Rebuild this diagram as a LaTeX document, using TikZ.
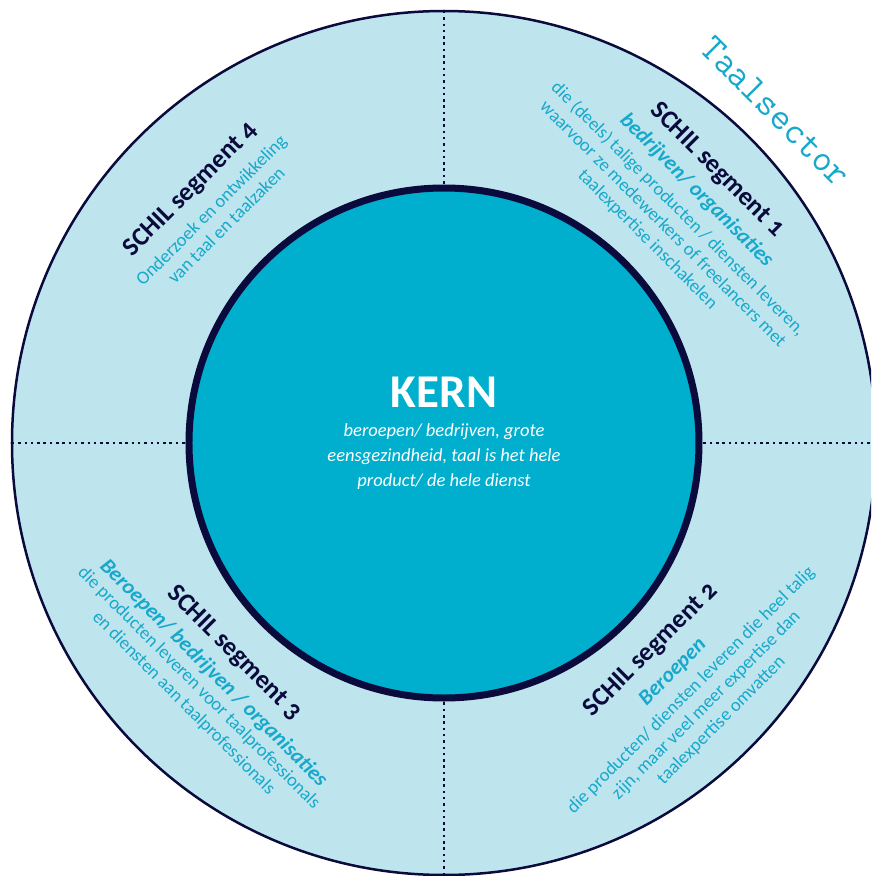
\documentclass[tikz,border=0pt]{standalone}
\usepackage{fontspec}
\setmainfont{Carlito}[Numbers=OldStyle]
\definecolor{navy}{HTML}{0A0A3C}
\definecolor{shellblue}{HTML}{BEE4EE}
\definecolor{kernblue}{HTML}{00AECD}
\definecolor{cyantext}{HTML}{16A9CC}
\begin{document}
\begin{tikzpicture}[x=1pt, y=1pt,
  ttl/.style={text=navy, font=\fontsize{26}{26}\selectfont\bfseries},
  sub/.style={text=cyantext, font=\fontsize{21.5}{22}\selectfont\bfseries\itshape},
  desc/.style={text=cyantext, align=center, font=\fontsize{18.5}{21.5}\selectfont},
  divider/.style={navy, line width=2.5pt, dash pattern=on 2.5pt off 3.8pt}]
\useasboundingbox (-444,-433) rectangle (427,443);
\clip (-444,-433) rectangle (427,443);
\node[circle, draw=navy, fill=shellblue, line width=2.5pt, minimum size=864pt, outer sep=0pt] (shell) at (0,0) {};
\node[circle, draw=navy, fill=kernblue, line width=7pt, minimum size=510pt, outer sep=0pt] (kern) at (shell.center) {};
\begin{scope}[divider]
\draw (shell.north)--(kern.north);
\draw (shell.south)--(kern.south);
\draw (shell.west)--(kern.west);
\draw (shell.east)--(kern.east);
\end{scope}
\node[text=white, font=\fontsize{47}{47}\selectfont\bfseries] (kerntitle) at (0,50.5) {KERN};
\node[text=white, align=center, font=\fontsize{18.5}{25}\selectfont\itshape] (kerntext) at (0,-14)
  {beroepen/ bedrijven, grote\\eensgezindheid, taal is het hele\\product/ de hele dienst};
\node[ttl, rotate=-45] (titleA) at (45:386) {SCHIL segment 1};
\node[sub, rotate=-45] (subA) at (45:357) {bedrijven/ organisaties};
\node[desc, rotate=-45] (descA) at (45:309.5)
  {die (deels) talige producten / diensten leveren,\\waarvoor ze medewerkers of freelancers met\\taalexpertise inschakelen};
\node[ttl, rotate=45] (titleB) at (-45:293) {SCHIL segment 2};
\node[sub, rotate=45] (subB) at (-45:324) {Beroepen};
\node[desc, rotate=45] (descB) at (-45:371)
  {die producten/ diensten leveren die heel talig\\zijn, maar veel meer expertise dan\\taalexpertise omvatten};
\node[ttl, rotate=-45] (titleC) at (225:297) {SCHIL segment 3};
\node[sub, rotate=-45] (subC) at (225:326) {Beroepen/ bedrijven / organisaties};
\node[desc, rotate=-45] (descC) at (225:357.5)
  {die producten leveren voor taalprofessionals\\en diensten aan taalprofessionals};
\node[ttl, rotate=45] (titleD) at (135:358) {SCHIL segment 4};
\node[desc, rotate=45] (descD) at (135:319) {Onderzoek en ontwikkeling\\van taal en taalzaken};
\node[text=cyantext, rotate=-45, font=\ttfamily\fontsize{38}{38}\selectfont] (sector) at (45:469) {Taalsector};
\end{tikzpicture}
\end{document}
